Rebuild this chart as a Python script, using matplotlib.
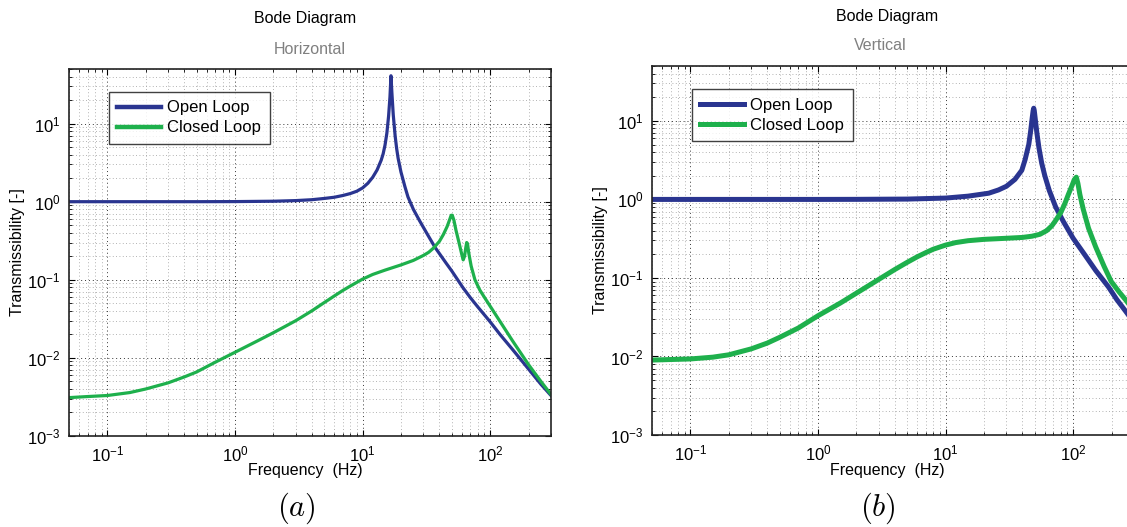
import matplotlib
matplotlib.use("Agg")
import matplotlib.pyplot as plt
from matplotlib.ticker import FuncFormatter, NullFormatter
import numpy as np

plt.rcParams['font.family'] = ['Liberation Sans', 'DejaVu Sans']
plt.rcParams['mathtext.fontset'] = 'custom'
plt.rcParams['mathtext.rm'] = 'Liberation Sans'
plt.rcParams['mathtext.it'] = 'Liberation Sans:italic'

# ---- Horizontal direction ----
h_open_freq = [0.05, 0.1, 0.5, 1, 2, 3, 4, 5, 6, 7, 8, 9, 10, 11, 12, 13, 14, 14.5,
               15, 15.5, 16.0, 16.4, 16.7, 17.0, 17.4, 18.0, 18.5, 19, 20, 21.5,
               22.7, 25, 28, 32, 37, 45, 50, 61, 70, 80, 100, 120, 150, 200, 250,
               300]
h_open_mag = [1.0, 1.0, 1.0, 1.003, 1.014, 1.033, 1.06, 1.10, 1.14, 1.20, 1.27,
              1.36, 1.50, 1.72, 2.05, 2.55, 3.4, 4.1, 5.3, 7.5, 12.5, 22, 41, 24,
              13, 7.0, 4.8, 3.6, 2.4, 1.55, 1.15, 0.80, 0.57, 0.39, 0.26, 0.165,
              0.13, 0.080, 0.059, 0.045, 0.029, 0.0198, 0.0128, 0.0072, 0.0046,
              0.0033]

h_closed_freq = [0.05, 0.07, 0.1, 0.15, 0.2, 0.3, 0.4, 0.5, 0.7, 1, 1.5, 2, 3, 4,
                 5, 6, 7, 8, 10, 12, 15, 20, 25, 30, 33, 36, 40, 43, 46, 48, 49.5,
                 50.5, 52, 54, 57, 60, 61.5, 63, 64.5, 65.5, 66.5, 68, 71, 76, 83,
                 90, 100, 120, 150, 200, 250, 300]
h_closed_mag = [0.0031, 0.0032, 0.0033, 0.0036, 0.0040, 0.0048, 0.0057, 0.0066,
                0.0088, 0.0118, 0.0165, 0.021, 0.030, 0.040, 0.051, 0.062, 0.073,
                0.083, 0.102, 0.117, 0.133, 0.155, 0.177, 0.205, 0.225, 0.255,
                0.31, 0.38, 0.48, 0.58, 0.67, 0.67, 0.58, 0.43, 0.30, 0.21, 0.18,
                0.20, 0.26, 0.30, 0.29, 0.22, 0.15, 0.10, 0.074, 0.060, 0.046,
                0.029, 0.0165, 0.0082, 0.0050, 0.0034]

# ---- Vertical direction ----
v_open_freq = [0.05, 0.1, 0.5, 1, 2, 5, 10, 15, 21.8, 26, 30, 35, 39.6, 42, 44.9,
               46.5, 47.8, 48.6, 49.1, 49.6, 50.5, 52, 54, 56.7, 60, 65, 73, 84,
               100, 124, 150, 189, 220, 257, 300]
v_open_mag = [1.0, 1.0, 1.0, 1.0, 1.002, 1.01, 1.04, 1.10, 1.2, 1.32, 1.47, 1.8,
              2.35, 3.2, 5.0, 7.5, 11, 13.5, 14.5, 13.5, 10.5, 7.0, 4.5, 2.9, 2.0,
              1.3, 0.80, 0.52, 0.32, 0.195, 0.125, 0.077, 0.053, 0.038, 0.027]

v_closed_freq = [0.05, 0.1, 0.15, 0.2, 0.3, 0.4, 0.5, 0.7, 1, 1.5, 2, 3, 4, 5, 6, 7,
                 8, 10, 12, 15, 20, 30, 40, 47.6, 55, 62, 68, 73, 80, 86, 92, 98,
                 102, 105.9, 109, 113, 120, 132, 150, 175, 199, 230, 257, 300]
v_closed_mag = [0.0090, 0.0093, 0.0098, 0.0105, 0.0125, 0.0148, 0.0175, 0.023,
                0.033, 0.048, 0.064, 0.096, 0.128, 0.158, 0.186, 0.21, 0.232,
                0.262, 0.282, 0.298, 0.310, 0.320, 0.328, 0.34, 0.36, 0.40, 0.46,
                0.54, 0.68, 0.88, 1.17, 1.5, 1.78, 1.92, 1.6, 1.15, 0.75, 0.43,
                0.25, 0.14, 0.09, 0.066, 0.053, 0.038]

x_limits = (0.05, 300)
y_limits = (1e-3, 50)

blue = '#2a3590'
green = '#1eb04c'
title_txt = 'Bode Diagram'
legend_labels = ['Open Loop', 'Closed Loop']

W, H = 1127, 527
fig = plt.figure(figsize=(W / 100, H / 100), dpi=100)


def px_axes(x0, y0, x1, y1):
    return fig.add_axes([x0 / W, 1 - y1 / H, (x1 - x0) / W, (y1 - y0) / H])


def decade_label(v, pos):
    e = int(round(np.log10(v)))
    return r'$\mathregular{10^{%d}}$' % e


def style(ax):
    ax.set_xscale('log')
    ax.set_yscale('log')
    ax.set_xlim(*x_limits)
    ax.set_ylim(*y_limits)
    ax.grid(True, which='major', linestyle=(0, (1, 3)), color='#333333', linewidth=0.7)
    ax.grid(True, which='minor', linestyle=(0, (1, 3)), color='#9a9a9a', linewidth=0.6)
    ax.tick_params(which='both', direction='in', top=True, right=True, labelsize=12,
                   pad=6)
    ax.tick_params(which='major', length=4)
    ax.tick_params(which='minor', length=2)
    ax.xaxis.set_major_formatter(FuncFormatter(decade_label))
    ax.yaxis.set_major_formatter(FuncFormatter(decade_label))
    ax.xaxis.set_minor_formatter(NullFormatter())
    ax.yaxis.set_minor_formatter(NullFormatter())
    for s in ax.spines.values():
        s.set_linewidth(1.2)
        s.set_color('#222222')


ax1 = px_axes(69, 69, 551, 436)
style(ax1)
ax1.plot(h_open_freq, h_open_mag, color=blue, lw=2.3, label=legend_labels[0])
ax1.plot(h_closed_freq, h_closed_mag, color=green, lw=2.3, label=legend_labels[1])

ax2 = px_axes(652, 66, 1134, 435)
style(ax2)
ax2.plot(v_open_freq, v_open_mag, color=blue, lw=3.6, label=legend_labels[0])
ax2.plot(v_closed_freq, v_closed_mag, color=green, lw=3.6, label=legend_labels[1])

for ax, lw in ((ax1, 3.2), (ax2, 3.6)):
    leg = ax.legend(loc='upper left', bbox_to_anchor=(0.083, 0.937), fontsize=12,
                    frameon=True, fancybox=False, edgecolor='#111111',
                    handlelength=2.6, handletextpad=0.4, borderpad=0.5,
                    labelspacing=0.3, borderaxespad=0)
    leg.get_frame().set_linewidth(1.0)
    for h in leg.get_lines():
        h.set_linewidth(lw)

# Titles, axis labels and panel tags
fig.text(305 / W, 1 - 19 / H, title_txt, ha='center', va='center', fontsize=11.5)
fig.text(310 / W, 1 - 50 / H, 'Horizontal', ha='center', va='center', fontsize=11.5,
         color='#808080')
fig.text(887 / W, 1 - 16 / H, title_txt, ha='center', va='center', fontsize=11.5)
fig.text(880 / W, 1 - 46 / H, 'Vertical', ha='center', va='center', fontsize=11.5,
         color='#808080')

for xc in (305, 887):
    fig.text(xc / W, 1 - 471 / H, 'Frequency  (Hz)', ha='center', va='center',
             fontsize=11.5)
fig.text(18 / W, 1 - 252 / H, 'Transmissibility [-]', ha='center', va='center',
         rotation=90, fontsize=11.5)
fig.text(600 / W, 1 - 250 / H, 'Transmissibility [-]', ha='center', va='center',
         rotation=90, fontsize=11.5)

for xc, tag in ((296, '(a)'), (878, '(b)')):
    fig.text(xc / W, 1 - 508 / H, '$' + tag + '$', ha='center', va='center',
             fontsize=22, math_fontfamily='cm')

fig.savefig('out.png', dpi=100)
